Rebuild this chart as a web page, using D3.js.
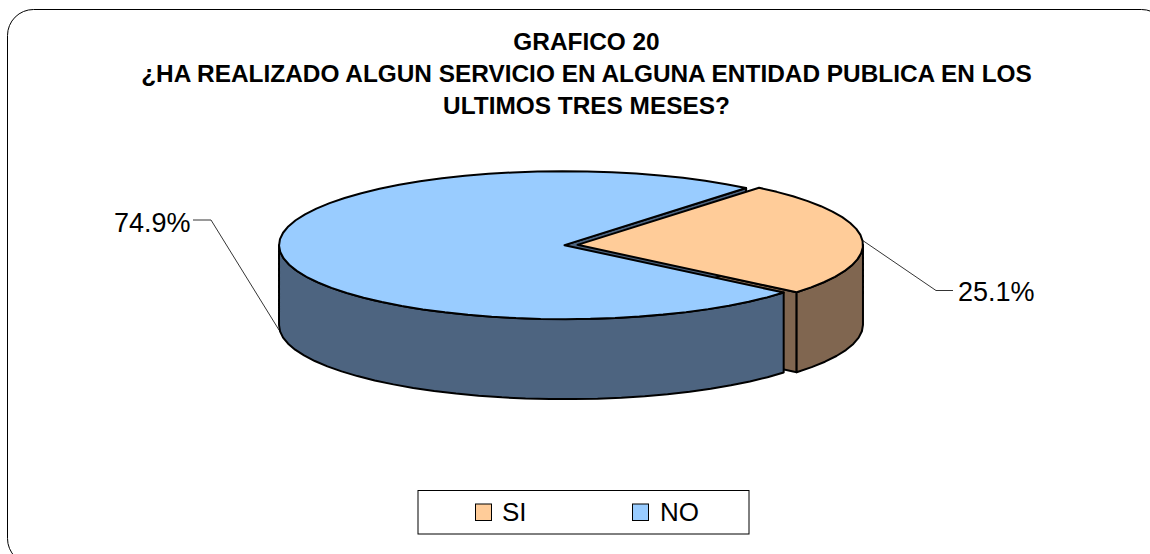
<!DOCTYPE html>
<html><head><meta charset="utf-8">
<script src="https://cdn.jsdelivr.net/npm/d3@7"></script>
<style>html,body{margin:0;padding:0;background:#fff;overflow:hidden}svg{display:block}text{font-family:"Liberation Sans",Arial,sans-serif;fill:#000}</style>
</head><body>
<svg id="c" width="1150" height="554"></svg>
<script>
const titleLines = ["GRAFICO 20","¿HA REALIZADO ALGUN SERVICIO EN ALGUNA ENTIDAD PUBLICA EN LOS","ULTIMOS TRES MESES?"];
const categories = ["SI","NO"];
const values = [25.1,74.9];
const labels = ["25.1%","74.9%"];
const topColors = ["#ffcc99","#99ccff"];
const sideColors = ["#806650","#4d6480"];

const svg = d3.select("#c");
const cx=571, cy=245, rx=285.5, ry=74, depth=80, explode=6.5;
const sx=d3.scaleLinear().domain([-1,1]).range([cx-rx,cx+rx]);
const sy=d3.scaleLinear().domain([-1,1]).range([cy+ry,cy-ry]);
const startDeg=39.5, toRad=Math.PI/180;
const arcs=d3.pie().sort(null).value(d=>d).startAngle(startDeg*toRad).endAngle((startDeg+360)*toRad)(values);
const mid=a=>(a.startAngle+a.endAngle)/2;
function pt(a,ang,dz){const m=mid(a);return [sx(Math.sin(ang))+explode*Math.sin(m),sy(Math.cos(ang))-explode*ry/rx*Math.cos(m)+(dz||0)];}
function apex(a,dz){const m=mid(a);return [cx+explode*Math.sin(m),cy-explode*ry/rx*Math.cos(m)+(dz||0)];}
function samples(a0,a1){const n=Math.max(2,Math.ceil(Math.abs(a1-a0)/(5*toRad)));return d3.range(n+1).map(i=>a0+(a1-a0)*i/n);}
const line=d3.line();
function draw(d,fill){svg.append("path").attr("d",d).attr("fill",fill).attr("stroke","#000").attr("stroke-width",2).attr("stroke-linejoin","round");}
function wall(a,c,a0,a1){const A=samples(a0,a1);const p=A.map(t=>pt(a,t,0)).concat(A.slice().reverse().map(t=>pt(a,t,depth)));draw(line(p)+"Z",c);}
function face(a,c,ang){const p=[apex(a),pt(a,ang),pt(a,ang,depth),apex(a,depth)];draw(line(p)+"Z",c);}
function topFace(a,c){const p=[apex(a)].concat(samples(a.startAngle,a.endAngle).map(t=>pt(a,t)));draw(line(p)+"Z",c);}

// frame
svg.append("rect").attr("x",7.5).attr("y",9.5).attr("width",1160).attr("height",555).attr("rx",26).attr("fill","#fff").attr("stroke","#000").attr("stroke-width",1);

// title
const titleY=[50,82,114];
svg.selectAll(".t").data(titleLines).enter().append("text").attr("class","t").attr("x",586.5).attr("y",(d,i)=>titleY[i]).attr("text-anchor","middle").attr("font-weight","bold").attr("font-size",24.4).text(d=>d);

const si=arcs[0], no=arcs[1];
face(si,sideColors[0],si.endAngle);
face(no,sideColors[1],no.endAngle);
wall(no,sideColors[1],no.startAngle,270*toRad);
topFace(no,topColors[1]);
wall(si,sideColors[0],90*toRad,si.endAngle);
topFace(si,topColors[0]);

// leaders
const leaders=[[[862,240],[936,290.5],[953,290.5]],[[279,330],[211,220],[193,220]]];
leaders.forEach(l=>svg.append("path").attr("d",line(l)).attr("fill","none").attr("stroke","#000").attr("stroke-width",0.8));
const labelPos=[[958,301],[114,232]];
svg.selectAll(".l").data(labels).enter().append("text").attr("class","l").attr("x",(d,i)=>labelPos[i][0]).attr("y",(d,i)=>labelPos[i][1]).attr("font-size",27).text(d=>d);

// legend
svg.append("rect").attr("x",418).attr("y",490.5).attr("width",331).attr("height",43.5).attr("fill","#fff").attr("stroke","#000").attr("stroke-width",1);
const swatchX=[475,632], textX=[502,660];
categories.forEach((c,i)=>{
 svg.append("rect").attr("x",swatchX[i]+.5).attr("y",504).attr("width",16).attr("height",16.5).attr("fill",topColors[i]).attr("stroke","#000").attr("stroke-width",1);
 svg.append("text").attr("x",textX[i]).attr("y",521).attr("font-size",26).text(c);
});
</script></body></html>
